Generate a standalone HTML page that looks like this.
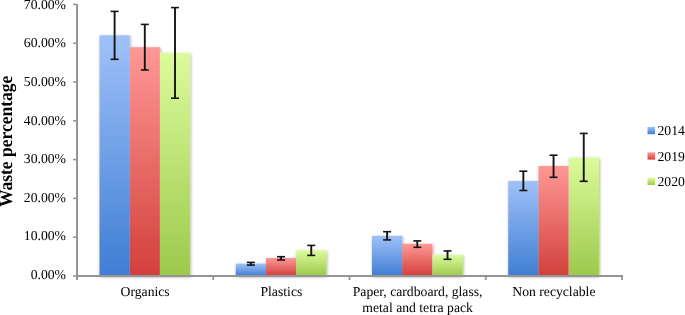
<!DOCTYPE html>
<html><head><meta charset="utf-8"><style>
html,body{margin:0;padding:0;background:#fff;width:685px;height:315px;overflow:hidden}
svg{display:block;will-change:transform}
text{font-family:"Liberation Serif",serif;fill:#000;text-rendering:geometricPrecision}
</style></head><body>
<svg width="685" height="315" viewBox="0 0 685 315">
<defs>
<linearGradient id="gb" x1="0" y1="0" x2="0" y2="1"><stop offset="0" stop-color="#9fc1f9"/><stop offset="1" stop-color="#3f7ed3"/></linearGradient>
<linearGradient id="gr" x1="0" y1="0" x2="0" y2="1"><stop offset="0" stop-color="#ff9896"/><stop offset="1" stop-color="#d2403c"/></linearGradient>
<linearGradient id="gg" x1="0" y1="0" x2="0" y2="1"><stop offset="0" stop-color="#dcfb9c"/><stop offset="1" stop-color="#9cc94c"/></linearGradient>
<filter id="sh" x="-20%" y="-5%" width="140%" height="110%"><feDropShadow dx="0.7" dy="1" stdDeviation="1.5" flood-color="#000" flood-opacity="0.36"/></filter>
</defs>

<g filter="url(#sh)">
<rect x="99.50" y="35.30" width="30.20" height="240.70" fill="url(#gb)"/>
<rect x="129.70" y="47.20" width="30.20" height="228.80" fill="url(#gr)"/>
<rect x="159.90" y="52.90" width="30.20" height="223.10" fill="url(#gg)"/>
<rect x="235.75" y="263.60" width="30.20" height="12.40" fill="url(#gb)"/>
<rect x="265.95" y="258.00" width="30.20" height="18.00" fill="url(#gr)"/>
<rect x="296.15" y="250.30" width="30.20" height="25.70" fill="url(#gg)"/>
<rect x="372.00" y="235.80" width="30.20" height="40.20" fill="url(#gb)"/>
<rect x="402.20" y="243.80" width="30.20" height="32.20" fill="url(#gr)"/>
<rect x="432.40" y="254.80" width="30.20" height="21.20" fill="url(#gg)"/>
<rect x="508.25" y="181.00" width="30.20" height="95.00" fill="url(#gb)"/>
<rect x="538.45" y="166.00" width="30.20" height="110.00" fill="url(#gr)"/>
<rect x="568.65" y="157.60" width="30.20" height="118.40" fill="url(#gg)"/>
</g>
<g stroke="#959595" fill="none">
<line x1="77" y1="4" x2="77" y2="280" stroke-width="2"/>
<line x1="76" y1="276" x2="623" y2="276" stroke-width="2"/>
<line x1="73" y1="276.00" x2="77" y2="276.00" stroke-width="1.5"/>
<line x1="73" y1="237.20" x2="77" y2="237.20" stroke-width="1.5"/>
<line x1="73" y1="198.40" x2="77" y2="198.40" stroke-width="1.5"/>
<line x1="73" y1="159.60" x2="77" y2="159.60" stroke-width="1.5"/>
<line x1="73" y1="120.80" x2="77" y2="120.80" stroke-width="1.5"/>
<line x1="73" y1="82.00" x2="77" y2="82.00" stroke-width="1.5"/>
<line x1="73" y1="43.20" x2="77" y2="43.20" stroke-width="1.5"/>
<line x1="73" y1="4.40" x2="77" y2="4.40" stroke-width="1.5"/>
<line x1="213.25" y1="276" x2="213.25" y2="280" stroke-width="1.8"/>
<line x1="349.50" y1="276" x2="349.50" y2="280" stroke-width="1.8"/>
<line x1="485.75" y1="276" x2="485.75" y2="280" stroke-width="1.8"/>
<line x1="622.00" y1="276" x2="622.00" y2="280" stroke-width="1.8"/>
</g>
<g stroke="#151515" fill="none">
<line x1="114.60" y1="11.40" x2="114.60" y2="59.30" stroke-width="1.9"/>
<line x1="110.60" y1="11.40" x2="118.60" y2="11.40" stroke-width="1.6"/>
<line x1="110.60" y1="59.30" x2="118.60" y2="59.30" stroke-width="1.6"/>
<line x1="144.80" y1="24.40" x2="144.80" y2="70.00" stroke-width="1.9"/>
<line x1="140.80" y1="24.40" x2="148.80" y2="24.40" stroke-width="1.6"/>
<line x1="140.80" y1="70.00" x2="148.80" y2="70.00" stroke-width="1.6"/>
<line x1="175.00" y1="7.60" x2="175.00" y2="98.20" stroke-width="1.9"/>
<line x1="171.00" y1="7.60" x2="179.00" y2="7.60" stroke-width="1.6"/>
<line x1="171.00" y1="98.20" x2="179.00" y2="98.20" stroke-width="1.6"/>
<line x1="250.85" y1="262.40" x2="250.85" y2="265.10" stroke-width="1.9"/>
<line x1="246.85" y1="262.40" x2="254.85" y2="262.40" stroke-width="1.6"/>
<line x1="246.85" y1="265.10" x2="254.85" y2="265.10" stroke-width="1.6"/>
<line x1="281.05" y1="256.70" x2="281.05" y2="260.00" stroke-width="1.9"/>
<line x1="277.05" y1="256.70" x2="285.05" y2="256.70" stroke-width="1.6"/>
<line x1="277.05" y1="260.00" x2="285.05" y2="260.00" stroke-width="1.6"/>
<line x1="311.25" y1="245.40" x2="311.25" y2="255.40" stroke-width="1.9"/>
<line x1="307.25" y1="245.40" x2="315.25" y2="245.40" stroke-width="1.6"/>
<line x1="307.25" y1="255.40" x2="315.25" y2="255.40" stroke-width="1.6"/>
<line x1="387.10" y1="231.70" x2="387.10" y2="239.90" stroke-width="1.9"/>
<line x1="383.10" y1="231.70" x2="391.10" y2="231.70" stroke-width="1.6"/>
<line x1="383.10" y1="239.90" x2="391.10" y2="239.90" stroke-width="1.6"/>
<line x1="417.30" y1="240.90" x2="417.30" y2="247.30" stroke-width="1.9"/>
<line x1="413.30" y1="240.90" x2="421.30" y2="240.90" stroke-width="1.6"/>
<line x1="413.30" y1="247.30" x2="421.30" y2="247.30" stroke-width="1.6"/>
<line x1="447.50" y1="250.90" x2="447.50" y2="259.30" stroke-width="1.9"/>
<line x1="443.50" y1="250.90" x2="451.50" y2="250.90" stroke-width="1.6"/>
<line x1="443.50" y1="259.30" x2="451.50" y2="259.30" stroke-width="1.6"/>
<line x1="523.35" y1="171.20" x2="523.35" y2="190.50" stroke-width="1.9"/>
<line x1="519.35" y1="171.20" x2="527.35" y2="171.20" stroke-width="1.6"/>
<line x1="519.35" y1="190.50" x2="527.35" y2="190.50" stroke-width="1.6"/>
<line x1="553.55" y1="155.20" x2="553.55" y2="177.30" stroke-width="1.9"/>
<line x1="549.55" y1="155.20" x2="557.55" y2="155.20" stroke-width="1.6"/>
<line x1="549.55" y1="177.30" x2="557.55" y2="177.30" stroke-width="1.6"/>
<line x1="583.75" y1="133.40" x2="583.75" y2="181.30" stroke-width="1.9"/>
<line x1="579.75" y1="133.40" x2="587.75" y2="133.40" stroke-width="1.6"/>
<line x1="579.75" y1="181.30" x2="587.75" y2="181.30" stroke-width="1.6"/>
</g>
<text x="66" y="279.10" font-size="13.7" text-anchor="end">0.00%</text>
<text x="66" y="240.46" font-size="13.7" text-anchor="end">10.00%</text>
<text x="66" y="201.82" font-size="13.7" text-anchor="end">20.00%</text>
<text x="66" y="163.18" font-size="13.7" text-anchor="end">30.00%</text>
<text x="66" y="124.54" font-size="13.7" text-anchor="end">40.00%</text>
<text x="66" y="85.90" font-size="13.7" text-anchor="end">50.00%</text>
<text x="66" y="47.26" font-size="13.7" text-anchor="end">60.00%</text>
<text x="66" y="8.62" font-size="13.7" text-anchor="end">70.00%</text>
<text transform="translate(11.8,141.4) rotate(-90) scale(1,1.07)" font-size="17.5" font-weight="bold" text-anchor="middle">Waste percentage</text>
<text x="145.12" y="296.2" font-size="13.7" text-anchor="middle">Organics</text>
<text x="281.38" y="296.2" font-size="13.7" text-anchor="middle">Plastics</text>
<text x="417.62" y="296.2" font-size="13.7" text-anchor="middle">Paper, cardboard, glass,</text>
<text x="417.62" y="311.8" font-size="13.7" text-anchor="middle">metal and tetra pack</text>
<text x="553.88" y="296.2" font-size="13.7" text-anchor="middle">Non recyclable</text>
<rect x="647.5" y="127.00" width="7.5" height="7.2" fill="url(#gb)"/>
<text x="657.5" y="135.20" font-size="13.7">2014</text>
<rect x="647.5" y="152.40" width="7.5" height="7.2" fill="url(#gr)"/>
<text x="657.5" y="160.60" font-size="13.7">2019</text>
<rect x="647.5" y="177.80" width="7.5" height="7.2" fill="url(#gg)"/>
<text x="657.5" y="186.00" font-size="13.7">2020</text>
</svg></body></html>
